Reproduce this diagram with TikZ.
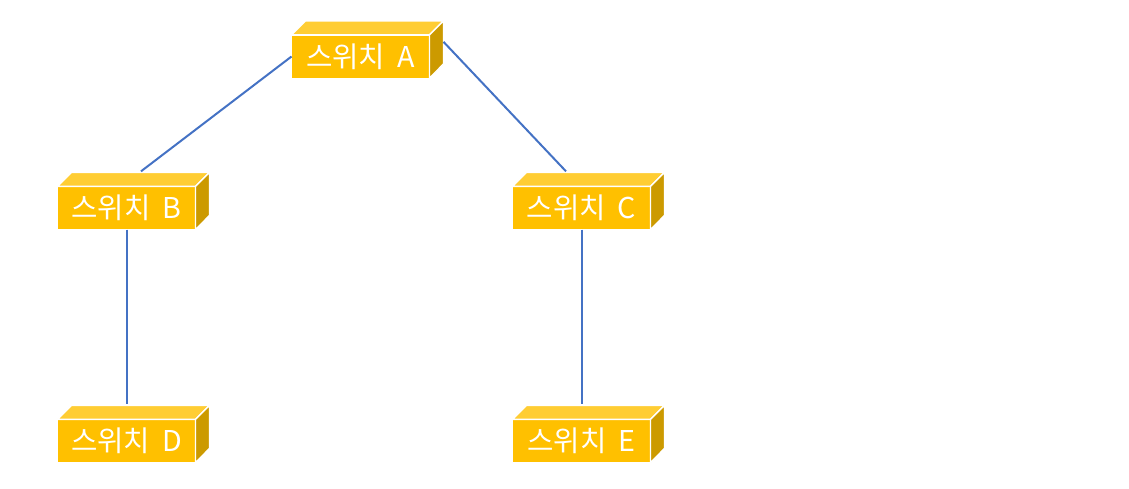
\documentclass[tikz,border=0pt]{standalone}
\usepackage{fontspec}
\setmainfont{Noto Sans CJK KR}
\usepackage{tikz}
\usetikzlibrary{calc}
\definecolor{swfront}{HTML}{FFC000}
\definecolor{swtop}{HTML}{FFCD33}
\definecolor{swside}{HTML}{CC9A00}
\definecolor{swlink}{HTML}{4472C4}

\begin{document}
\begin{tikzpicture}[x=0.75pt,y=-0.75pt,
  swbox/.style={fill=swfront, draw=white, line width=1pt, minimum width=103.5pt, minimum height=32.5pt,
    inner sep=0pt, outer sep=0pt, text=white, font=\fontsize{21.5}{25}\selectfont},
  swface/.style={draw=white, line width=1pt, line join=miter},
  link/.style={draw=swlink, line width=1.5pt}]
\useasboundingbox (0,0) rectangle (1129,489);

% --- blocchi ---
\foreach \n/\x/\y in {A/360.5/56.5, B/126.5/208, C/581.5/208, D/126.5/441, E/581.5/441}{
  \node[swbox] (sw\n) at (\x,\y) {스위치\hspace{0.42em}\n};
  \fill[swtop,swface] (sw\n.north west) -- ++(14,-14) -- ++(138,0) -- ++(-14,14) -- cycle;
  \fill[swside,swface] (sw\n.north east) -- ++(14,-14) -- ++(0,43) -- (sw\n.south east) -- cycle;
  \coordinate (top\n) at ($(sw\n.north)+(0,-15)$);
  \coordinate (side\n) at ($(sw\n.north east)+(14,-14)$);
}

% --- collegamenti ---
\draw[link] (swA.west) -- ($(topB)+(14.5,0)$);
\draw[link] ($(sideA)+(0,21)$) -- ($(topC)+(-15.5,0)$);
\draw[link] ([xshift=0.6pt]swB.south) -- ([xshift=0.6pt]topD);
\draw[link] ([xshift=0.6pt]swC.south) -- ([xshift=0.6pt]topE);
\end{tikzpicture}
\end{document}
